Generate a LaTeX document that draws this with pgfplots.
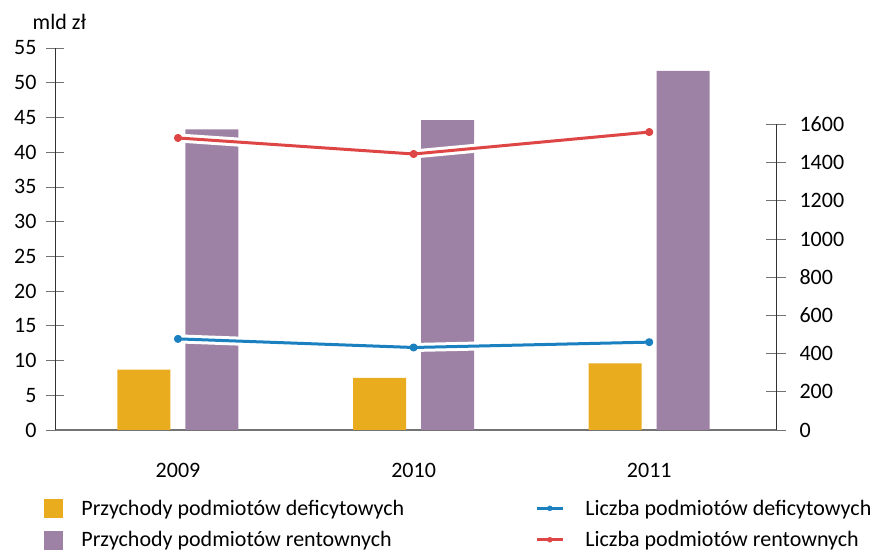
\documentclass[border=0pt]{standalone}
\usepackage{fontspec}
\setmainfont{Carlito}
\usepackage{pgfplots}
\pgfplotsset{compat=1.18}
\definecolor{cyel}{HTML}{E8AC1E}
\definecolor{cpur}{HTML}{9E82A6}
\definecolor{cred}{HTML}{DE4545}
\definecolor{cblu}{HTML}{1B80C0}
\begin{document}
\begin{tikzpicture}[font=\fontsize{22}{26}\selectfont]
\path (-55pt,-121pt) rectangle (818pt,430pt);
\begin{axis}[
 at={(0,0)}, anchor=south west,
 scale only axis, width=721pt, height=382pt,
 xmin=-0.522, xmax=2.538,
 ymin=0, ymax=55,
 axis y line*=left, axis x line*=bottom,
 xtick={0,1,2}, xticklabels={2009,2010,2011},
 x tick style={draw=none},
 xticklabel style={yshift=-12pt},
 ytick={0,5,...,55},
 tick align=center, major tick length=18pt,
 y tick style={black!55, line width=0.8pt},
 x axis line style={black!55, line width=1.6pt, -},
 y axis line style={black!80, line width=0.8pt, -},
 yticklabel style={xshift=-6pt},
 ybar, bar width=53pt,
 /pgf/number format/assume math mode=true,
 clip=false,
]
\addplot[fill=cyel, draw=none, bar shift=-34pt] coordinates {(0,8.7) (1,7.5) (2,9.6)};
\addplot[fill=cpur, draw=none, bar shift=34pt] coordinates {(0,43.3) (1,44.6) (2,51.7)};
\node at (axis description cs:0.006,1.068) {mld zł};
\end{axis}
\begin{axis}[
 at={(0,0)}, anchor=south west,
 scale only axis, width=721pt, height=382pt,
 xmin=-0.522, xmax=2.538,
 ymin=0, ymax=2000,
 axis y line*=right, axis x line=none,
 y axis line style={draw=none},
 ytick={0,200,...,1600},
 tick align=center, major tick length=20pt,
 y tick style={black!55, line width=0.8pt},
 yticklabel style={xshift=10pt},
 /pgf/number format/assume math mode=true,
 /pgf/number format/1000 sep={},
 clip=false,
 legend columns=2,
 legend cell align=left,
 legend style={draw=none, fill=none, inner sep=0pt, outer sep=0pt,
   at={(rel axis cs:-0.0152,-0.181)}, anchor=north west,
   nodes={inner sep=0pt}, row sep=13pt,
   /tikz/column 1/.style={column sep=19pt},
   /tikz/column 2/.style={column sep=131pt},
   /tikz/column 3/.style={column sep=21pt}},
]
\draw[black!80, line width=0.8pt] (rel axis cs:1,0) -- (rel axis cs:1,0.8);
\addplot[white, line width=9pt, line join=round, forget plot] coordinates {(0,1529) (1,1445) (2,1560)};
\addplot[cred, line width=3pt, line join=round, mark=*, mark size=2.5pt, forget plot] coordinates {(0,1529) (1,1445) (2,1560)};
\addplot[white, line width=9pt, line join=round, forget plot] coordinates {(0,477) (1,432) (2,460)};
\addplot[cblu, line width=3pt, line join=round, mark=*, mark size=2.5pt, forget plot] coordinates {(0,477) (1,432) (2,460)};
\addlegendimage{legend image code/.code={\fill[cyel] (0pt,-9pt) rectangle (18pt,9pt);}}
\addlegendentry{Przychody podmiotów deficytowych}
\addlegendimage{legend image code/.code={\draw[cblu, line width=3pt] (0pt,0pt) -- (26pt,0pt); \fill[cblu] (13pt,0pt) circle (2.5pt);}}
\addlegendentry{Liczba podmiotów deficytowych}
\addlegendimage{legend image code/.code={\fill[cpur] (0pt,-9pt) rectangle (18pt,9pt);}}
\addlegendentry{Przychody podmiotów rentownych}
\addlegendimage{legend image code/.code={\draw[cred, line width=3pt] (0pt,0pt) -- (26pt,0pt); \fill[cred] (13pt,0pt) circle (2.5pt);}}
\addlegendentry{Liczba podmiotów rentownych}
\end{axis}
\end{tikzpicture}
\end{document}
